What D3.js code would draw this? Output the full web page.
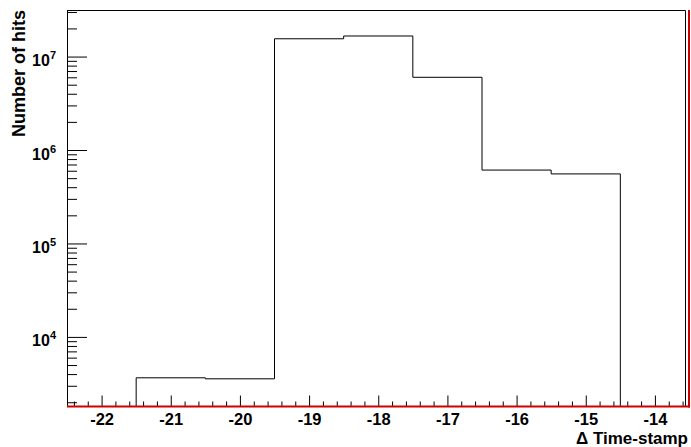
<!DOCTYPE html>
<html>
<head>
<meta charset="utf-8">
<script src="https://cdn.jsdelivr.net/npm/d3@7"></script>
<style>
  body { margin: 0; background: #fff; }
  text { font-family: "Liberation Sans", Arial, sans-serif; font-weight: bold; fill: #000; }
</style>
</head>
<body>
<div id="chart"></div>
<script>
// bin centres of the histogram and their contents (0 = empty bin)
const binCenters = [-22, -21, -20, -19, -18, -17, -16, -15, -14];
const hits = [0, 3650, 3560, 1.55e7, 1.66e7, 6.0e6, 6.1e5, 5.55e5, 0];
const xTicks = [-22, -21, -20, -19, -18, -17, -16, -15, -14];
const yTicks = [1e4, 1e5, 1e6, 1e7];
const xTitle = "\u0394 Time-stamp";
const yTitle = "Number of hits";

const W = 691, H = 447;
const pLeft = 67, pRight = 689.5, pTop = 10, pBottom = 406.5;
const yMin = 1800, yMax = 3.15e7;

const svg = d3.select('#chart').append('svg').attr('width', W).attr('height', H);

const x = d3.scaleLinear().domain([-22.5, -13.5]).range([pLeft, pRight]);
const y = d3.scaleLog().domain([yMin, yMax]).range([pBottom, pTop]);

// frame
svg.append('path')
  .attr('d', `M${pLeft + 0.5},${pBottom}V${pTop + 0.5}H${685.5}V${pBottom}`)
  .attr('fill', 'none').attr('stroke', '#000').attr('stroke-width', 1);

// histogram outline
const half = 0.5;
let d = '';
binCenters.forEach((c, i) => {
  const v = y(Math.max(hits[i], yMin));
  const x0 = x(c - half), x1 = x(c + half);
  d += (i === 0 ? `M${x0},${pBottom}V${v}` : `V${v}`) + `H${x1}`;
});
d += `V${pBottom}`;
svg.append('path').attr('d', d).attr('fill', 'none').attr('stroke', '#000').attr('stroke-width', 1);

// x minor ticks
const xMinor = d3.range(-22.4, -13.5, 0.2).filter(v => Math.abs(v - Math.round(v)) > 0.01);
svg.append('g').attr('transform', `translate(0,${pBottom})`)
  .call(d3.axisBottom(x).tickValues(xMinor).tickSize(-5).tickFormat(''))
  .call(g => g.select('.domain').remove());

// x major ticks
svg.append('g').attr('transform', `translate(0,${pBottom})`)
  .call(d3.axisBottom(x).tickValues(xTicks).tickSize(-11).tickFormat(v => '-' + Math.abs(v)))
  .call(g => g.select('.domain').remove())
  .call(g => g.selectAll('text').attr('font-size', 16.5).attr('dy', null).attr('y', 18)
    .style('font-family', '"Liberation Sans", Arial, sans-serif').style('font-weight', 'bold'));

// y minor ticks
const yMinor = [];
for (let k = 3; k <= 7; k++) for (let m = 2; m <= 9; m++) {
  const v = m * Math.pow(10, k);
  if (v >= yMin && v <= yMax) yMinor.push(v);
}
svg.append('g').attr('transform', `translate(${pLeft},0)`)
  .call(d3.axisLeft(y).tickValues(yMinor).tickSize(-10).tickFormat(''))
  .call(g => g.select('.domain').remove());

// y major ticks with 10^n labels
svg.append('g').attr('transform', `translate(${pLeft},0)`)
  .call(d3.axisLeft(y).tickValues(yTicks).tickSize(-20).tickPadding(11).tickFormat(''))
  .call(g => g.select('.domain').attr('d', `M0.5,${pBottom}V${pTop}`))
  .call(g => g.selectAll('.tick text').each(function(v) {
    const t = d3.select(this).attr('font-size', 16).attr('dy', null).attr('y', 9)
      .style('font-family', '"Liberation Sans", Arial, sans-serif').style('font-weight', 'bold');
    t.append('tspan').text('10');
    t.append('tspan').attr('font-size', 11).attr('dy', -7).text(Math.round(Math.log10(v)));
  }));

// red axis lines
svg.append('line').attr('x1', pLeft).attr('x2', 690).attr('y1', pBottom).attr('y2', pBottom)
  .attr('stroke', '#d00000').attr('stroke-width', 2);
svg.append('line').attr('x1', 689).attr('x2', 689).attr('y1', pTop).attr('y2', pBottom + 1)
  .attr('stroke', '#d00000').attr('stroke-width', 2);

// titles
svg.append('text').attr('x', 688).attr('y', 444).attr('text-anchor', 'end')
  .attr('font-size', 17).text(xTitle);
svg.append('text').attr('transform', `translate(25,${pTop}) rotate(-90)`)
  .attr('text-anchor', 'end').attr('font-size', 18).text(yTitle);
</script>
</body>
</html>
